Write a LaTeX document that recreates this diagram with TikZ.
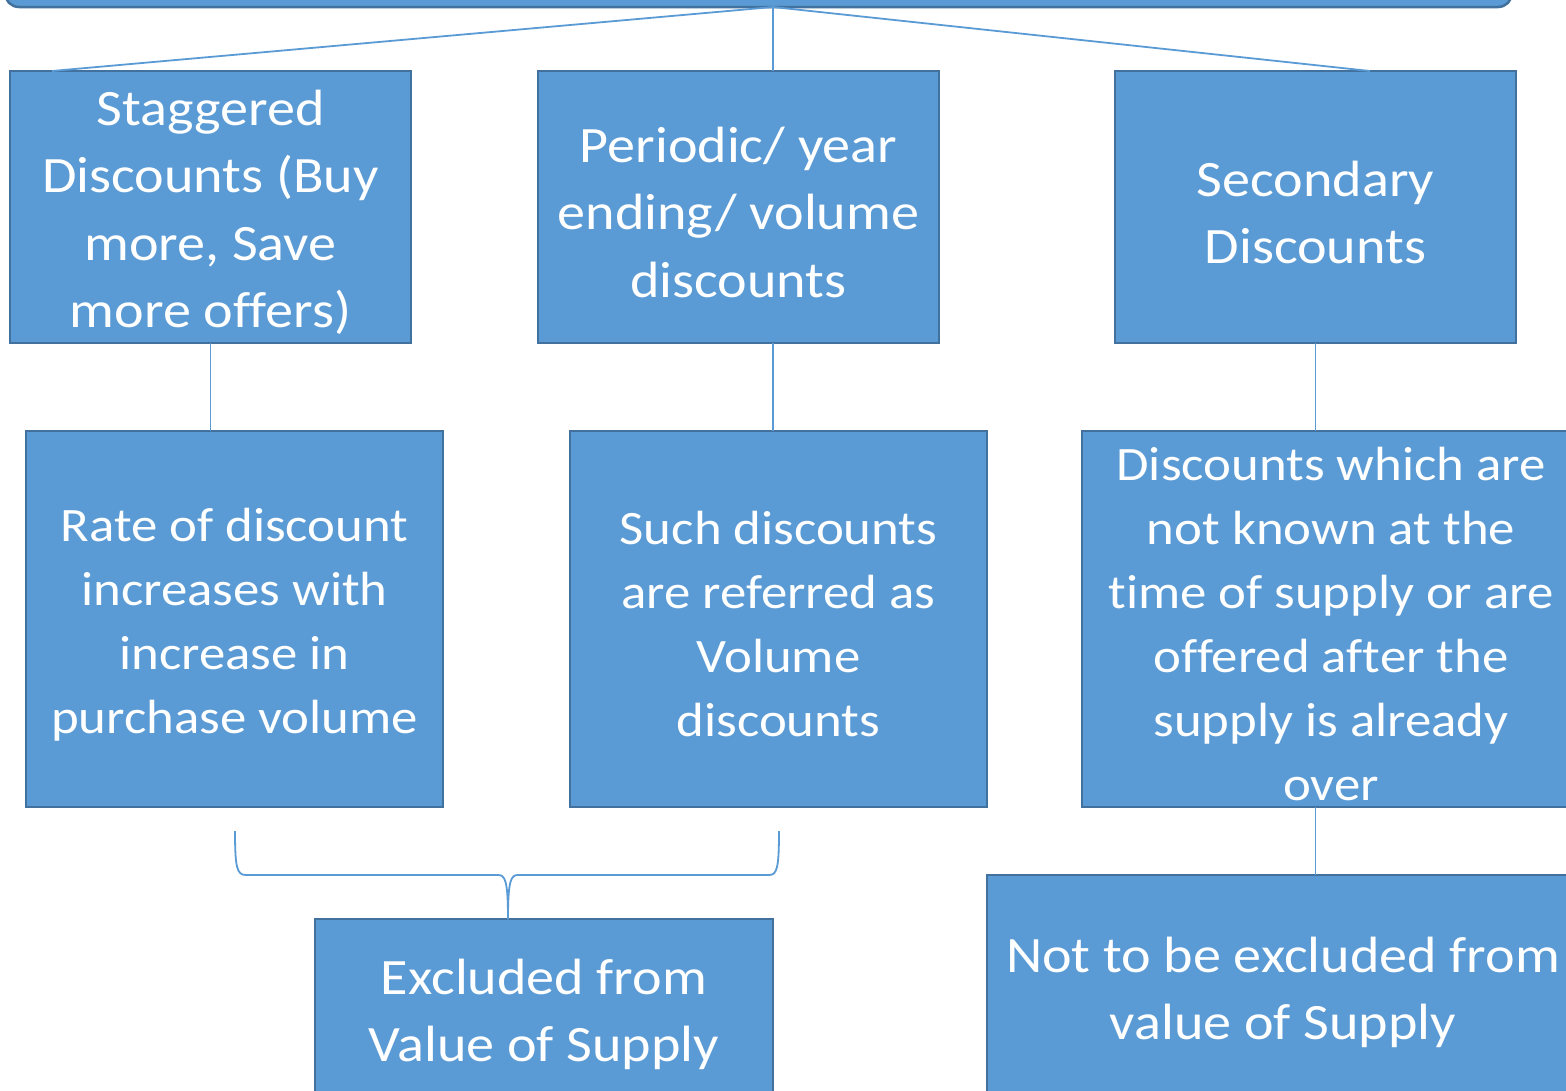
\documentclass[tikz,border=0pt]{standalone}
\usepackage{fontspec}
\setmainfont[FakeStretch=1.1, Ligatures=NoCommon]{Carlito}
\definecolor{boxfill}{HTML}{5B9BD5}
\definecolor{boxline}{HTML}{41719C}
% invisible strut that lowers a block of lines a little inside its box
\newcommand\lowerby[1]{\rule{0pt}{#1}}
\begin{document}
\begin{tikzpicture}[x=1pt,y=-1pt,
  box/.style={draw=boxline, fill=boxfill, line width=2.5pt, rectangle,
    anchor=north west, text=white, align=center, inner sep=0pt, outer sep=0pt},
  big/.style={font=\fontsize{51}{67.5}\selectfont},
  mid/.style={font=\fontsize{48}{64}\selectfont},
  link/.style={draw=boxfill, line width=1.8pt}]
\useasboundingbox (0,0) rectangle (1566,1090);
\clip (0,0) rectangle (1566,1090);
\fill[white] (0,0) rectangle (1566,1090);

% root box (only its lower edge is in view)
\node[box, rounded corners=14pt, minimum width=1507pt, minimum height=80pt, anchor=south west] (T) at (5,7) {};
\coordinate (hub) at (773,7);

% first level
\node[box, big, minimum width=401pt, minimum height=272pt] (A) at (10,71)
  {\lowerby{46pt}Staggered\\Discounts (Buy\\more, Save\\more offers)};
\node[box, big, minimum width=401pt, minimum height=272pt] (B) at (538,71)
  {\lowerby{46pt}Periodic/ year\\ending/ volume\\discounts};
\node[box, big, minimum width=401pt, minimum height=272pt] (C) at (1115,71)
  {\lowerby{46pt}Secondary\\Discounts};

% second level
\node[box, mid, minimum width=417pt, minimum height=376pt] (D) at (26,431)
  {\lowerby{44pt}Rate of discount\\increases with\\increase in\\purchase volume};
\node[box, mid, minimum width=417pt, minimum height=376pt] (E) at (570,431)
  {\lowerby{44pt}Such discounts\\are referred as\\Volume\\discounts};
\node[box, mid, minimum width=498pt, minimum height=376pt] (F) at (1082,431)
  {\lowerby{44pt}Discounts which are\\not known at the\\time of supply or are\\offered after the\\supply is already\\over};

% third level
\node[box, big, minimum width=458pt, minimum height=180pt] (G) at (315,919)
  {\lowerby{46pt}Excluded from\\Value of Supply};
\node[box, big, minimum width=592pt, minimum height=224pt] (H) at (987,875)
  {\lowerby{46pt}Not to be excluded from\\value of Supply};

% connectors
\draw[link] (hub) -- ([xshift=42pt]A.north west);
\draw[link] (hub) -- (B.north -| hub);
\draw[link] (hub) -- ([xshift=255pt]C.north west);
\draw[link] (A.south) -- (D.north -| A.south);
\draw[link] (B.south -| hub) -- (E.north -| hub);
\draw[link] (C.south) -- (F.north -| C.south);
\draw[link] (F.south -| C.south) -- (H.north -| C.south);

% brace gathering the two left branches
\coordinate (tip) at (508,919);
\coordinate (bl) at (235,831);
\coordinate (br) at (779,831);
\draw[link, line join=round]
  (bl) .. controls (235,868) and (237,875) .. (246,875)
  -- (498,875) .. controls (505,875) and (508,880) .. (tip)
  .. controls (508,880) and (511,875) .. (518,875)
  -- (769,875) .. controls (777,875) and (779,868) .. (br);
\end{tikzpicture}
\end{document}
